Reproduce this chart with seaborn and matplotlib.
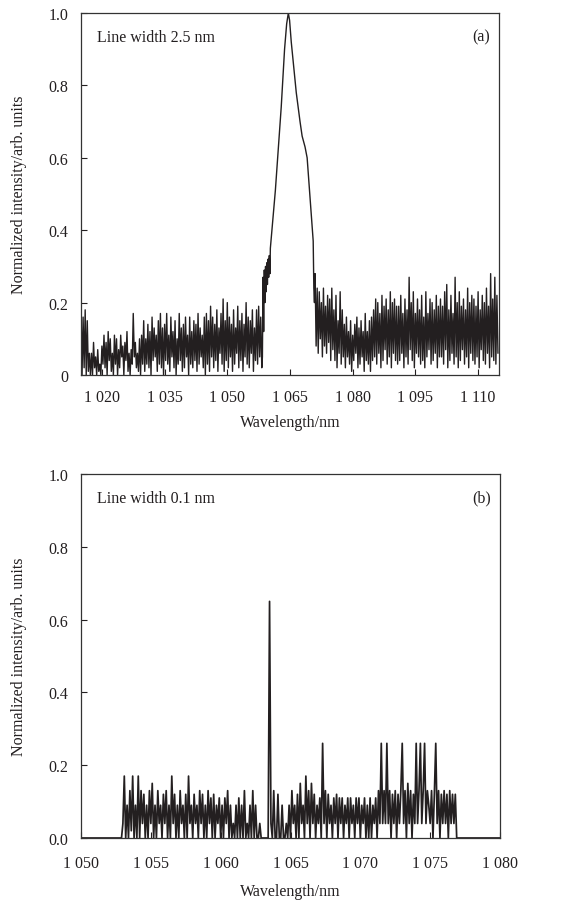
import numpy as np
import pandas as pd
import matplotlib
matplotlib.use('Agg')
import matplotlib.pyplot as plt
import seaborn as sns

# ---- panel (a): line width 2.5 nm ----
# noise floor sampled every 0.25 nm, values in 1/100 of normalized intensity
a_step = 0.25
a_left_start = 1015.0
a_left_noise = [19, 0, 16, 2, 18, 0, 15, 1, 6, 0,
                6, 0, 9, 2, 5, 0, 7, 1, 3, 0, 8, 3, 11, 2, 9, 0, 12, 4, 10, 1,
                6, 0, 11, 3, 10, 0, 7, 2, 11, 5, 8, 0, 9, 4, 12, 1, 6, 0, 7, 3,
                17, 5, 9, 2, 6, 1, 10, 0, 11, 3,
                15, 1, 10, 3, 14, 2, 12, 0, 16, 4, 13, 5, 11, 1, 15, 3, 17, 2, 13, 0,
                14, 4, 17, 3, 11, 1, 16, 5, 12, 2, 15, 0, 10, 3, 17, 4, 13, 1, 14, 2,
                16, 5, 11, 0, 16, 3, 12, 2, 15, 4, 14, 1, 17, 3, 13, 5, 11, 2, 16, 0,
                17, 3, 15, 1, 19, 5, 16, 2, 14, 4, 18, 1, 13, 6, 17, 3, 21, 1, 15, 4,
                20, 2, 16, 5, 14, 1, 18, 3, 13, 6, 19, 2, 15, 4, 17, 1, 14, 5, 20, 3,
                16, 2, 15, 6, 18, 1, 13, 4, 18, 3, 19, 5, 16, 2]
a_peak_wl = [1058.4, 1058.55, 1058.7, 1058.85, 1059.0, 1059.15, 1059.3, 1059.45,
             1059.6, 1059.75, 1059.9, 1060.05, 1060.2, 1060.3, 1061.5, 1062.9,
             1063.7, 1064.2, 1064.6, 1064.9, 1065.3, 1066.5, 1067.4, 1067.9,
             1068.6, 1069.1, 1070.3, 1070.55, 1070.7, 1070.85]
a_peak_val = [0.05, 0.27, 0.12, 0.29, 0.20, 0.30, 0.23, 0.31,
              0.25, 0.32, 0.27, 0.33, 0.28, 0.35, 0.51, 0.74,
              0.90, 0.97, 1.00, 0.98, 0.92, 0.78, 0.70, 0.66,
              0.63, 0.60, 0.41, 0.37, 0.24, 0.20]
a_right_start = 1071.0
a_right_noise = [28, 8, 24, 6, 23, 10, 20, 5, 24, 8, 19, 6, 22, 9, 21, 4, 24, 7,
                 18, 4, 22, 2, 15, 6, 23, 3, 18, 5,
                 14, 2, 16, 5, 12, 3, 15, 1, 11, 4, 14, 6, 16, 2, 13, 3, 15, 5, 12, 1,
                 17, 4, 12, 3, 15, 1, 16, 4,
                 18, 5, 21, 3, 20, 6, 17, 2, 22, 4, 19, 7, 21, 3, 18, 5, 23, 2, 20, 6,
                 21, 4, 19, 3,
                 19, 4, 22, 6, 17, 2, 21, 5, 18, 3, 27, 7, 20, 4, 23, 2, 17, 6, 21, 5,
                 18, 3, 22, 4, 16, 2, 23, 5, 17, 7, 21, 3, 20, 4, 18, 6, 22, 2, 19, 5,
                 21, 5, 19, 3, 23, 7, 25, 2, 18, 4, 22, 6, 17, 3, 27, 5, 20, 2, 23, 4,
                 19, 7, 21, 3, 18, 5, 24, 2, 20, 6, 22, 4, 21, 3, 19, 5, 23, 2, 18, 7,
                 22, 4, 20, 3, 24, 6, 19, 2, 28, 5, 21, 4, 27, 3, 22, 6]
a_xticks = [1020, 1035, 1050, 1065, 1080, 1095, 1110]
a_yticks = [0, 0.2, 0.4, 0.6, 0.8, 1.0]
a_ylabels = ['0', '0.2', '0.4', '0.6', '0.8', '1.0']

# ---- panel (b): line width 0.1 nm ----
# sampled every 0.1 nm from 1053.0 nm, values in 1/100
b_step = 0.1
b_start = 1053.0
b_noise = [4, 17, 0, 9, 0, 13, 2, 17, 0, 9,
           0, 17, 0, 13, 4, 12, 0, 9, 0, 13,
           4, 15, 0, 9, 0, 13, 4, 9, 0, 12,
           4, 13, 0, 9, 0, 17, 4, 12, 0, 9,
           0, 13, 4, 9, 0, 12, 0, 17, 4, 9,
           0, 12, 4, 9, 0, 13, 4, 12, 0, 9,
           0, 13, 4, 11, 0, 12, 0, 9, 4, 11,
           0, 9, 0, 11, 4, 13, 0, 9, 0, 4,
           0, 9, 0, 11, 0, 9, 0, 13, 0, 4,
           0, 9, 0, 13, 0, 9, 0, 0, 4, 0,
           0, 0, 0, 0, 0, 65, 4, 0, 13, 0,
           0, 12, 0, 0, 9, 0, 0, 4, 0, 9,
           0, 13, 4, 9, 0, 12, 0, 15, 4, 9,
           0, 17, 4, 13, 0, 15, 4, 12, 0, 9,
           4, 11, 0, 26, 4, 13, 0, 12, 4, 9,
           0, 11, 4, 12, 0, 11, 4, 11, 0, 9,
           4, 11, 0, 11, 4, 9, 0, 11, 4, 11,
           0, 9, 4, 11, 0, 9, 0, 11, 0, 9,
           4, 11, 0, 13, 4, 26, 4, 13, 4, 26,
           4, 13, 0, 12, 4, 13, 0, 12, 4, 13,
           26, 4, 13, 0, 15, 4, 13, 0, 12, 4,
           26, 4, 13, 26, 4, 13, 26, 4, 13, 9,
           4, 13, 0, 12, 26, 4, 13, 0, 12, 4,
           13, 4, 12, 0, 13, 4, 12, 4, 12]
b_head_wl = [1050.0, 1052.9]
b_tail_wl = [1076.9, 1080.0]
b_xticks = [1050, 1055, 1060, 1065, 1070, 1075, 1080]
b_yticks = [0.0, 0.2, 0.4, 0.6, 0.8, 1.0]
b_ylabels = ['0.0', '0.2', '0.4', '0.6', '0.8', '1.0']

line_color = '#231f20'


def thousands(v):
    return f"{v // 1000} {v % 1000:03d}"


# build the traces
a_left_wl = a_left_start + a_step * np.arange(len(a_left_noise))
a_right_wl = a_right_start + a_step * np.arange(len(a_right_noise))
df_a = pd.DataFrame({
    'wl': np.concatenate([a_left_wl, a_peak_wl, a_right_wl]),
    'val': np.concatenate([np.array(a_left_noise) / 100, a_peak_val,
                           np.array(a_right_noise) / 100]),
})

b_wl = b_start + b_step * np.arange(len(b_noise))
df_b = pd.DataFrame({
    'wl': np.concatenate([b_head_wl, b_wl, b_tail_wl]),
    'val': np.concatenate([[0, 0], np.array(b_noise) / 100, [0, 0]]),
})

sns.set_theme(style='ticks')
plt.rcParams['font.family'] = ['Liberation Serif', 'DejaVu Serif']
plt.rcParams['axes.edgecolor'] = '#333333'

fig = plt.figure(figsize=(5.65, 9.04), dpi=100)
ax_a = fig.add_axes([81 / 565, 1 - 376 / 904, 418 / 565, 362 / 904])
ax_b = fig.add_axes([81 / 565, 1 - 839 / 904, 419 / 565, 364 / 904])

sns.lineplot(data=df_a, x='wl', y='val', ax=ax_a, color=line_color,
             linewidth=1.0, estimator=None, sort=False)
sns.lineplot(data=df_b, x='wl', y='val', ax=ax_b, color=line_color,
             linewidth=1.25, estimator=None, sort=False)

panels = [
    (ax_a, (1015, 1115), a_xticks, a_yticks, a_ylabels, 'Line width 2.5 nm', '(a)', 10),
    (ax_b, (1050, 1080), b_xticks, b_yticks, b_ylabels, 'Line width 0.1 nm', '(b)', 12),
]
for ax, xlim, xt, yt, yl, note, tag, xpad in panels:
    ax.set_xlim(*xlim)
    ax.set_ylim(0, 1.0)
    ax.set_xticks(xt, [thousands(t) for t in xt])
    ax.set_yticks(yt, yl)
    ax.tick_params(direction='in', length=4, width=0.8, labelsize=11.5,
                   colors='#231f20')
    ax.tick_params(axis='y', pad=9)
    ax.tick_params(axis='x', pad=xpad)
    for s in ax.spines.values():
        s.set_linewidth(0.9)
    ax.set_xlabel('Wavelength/nm', fontsize=11.5, color='#231f20')
    ax.set_ylabel('Normalized intensity/arb. units', fontsize=11.5, color='#231f20')
    ax.yaxis.set_label_coords(-0.13, 0.5)
    ax.text(0.038, 0.935, note, transform=ax.transAxes, fontsize=11.5,
            va='center', ha='left', color='#231f20')
    ax.text(0.978, 0.935, tag, transform=ax.transAxes, fontsize=11.5,
            va='center', ha='right', color='#231f20')

ax_a.xaxis.set_label_coords(0.5, -0.108)
ax_b.xaxis.set_label_coords(0.5, -0.124)

fig.savefig('out.png', dpi=100)
